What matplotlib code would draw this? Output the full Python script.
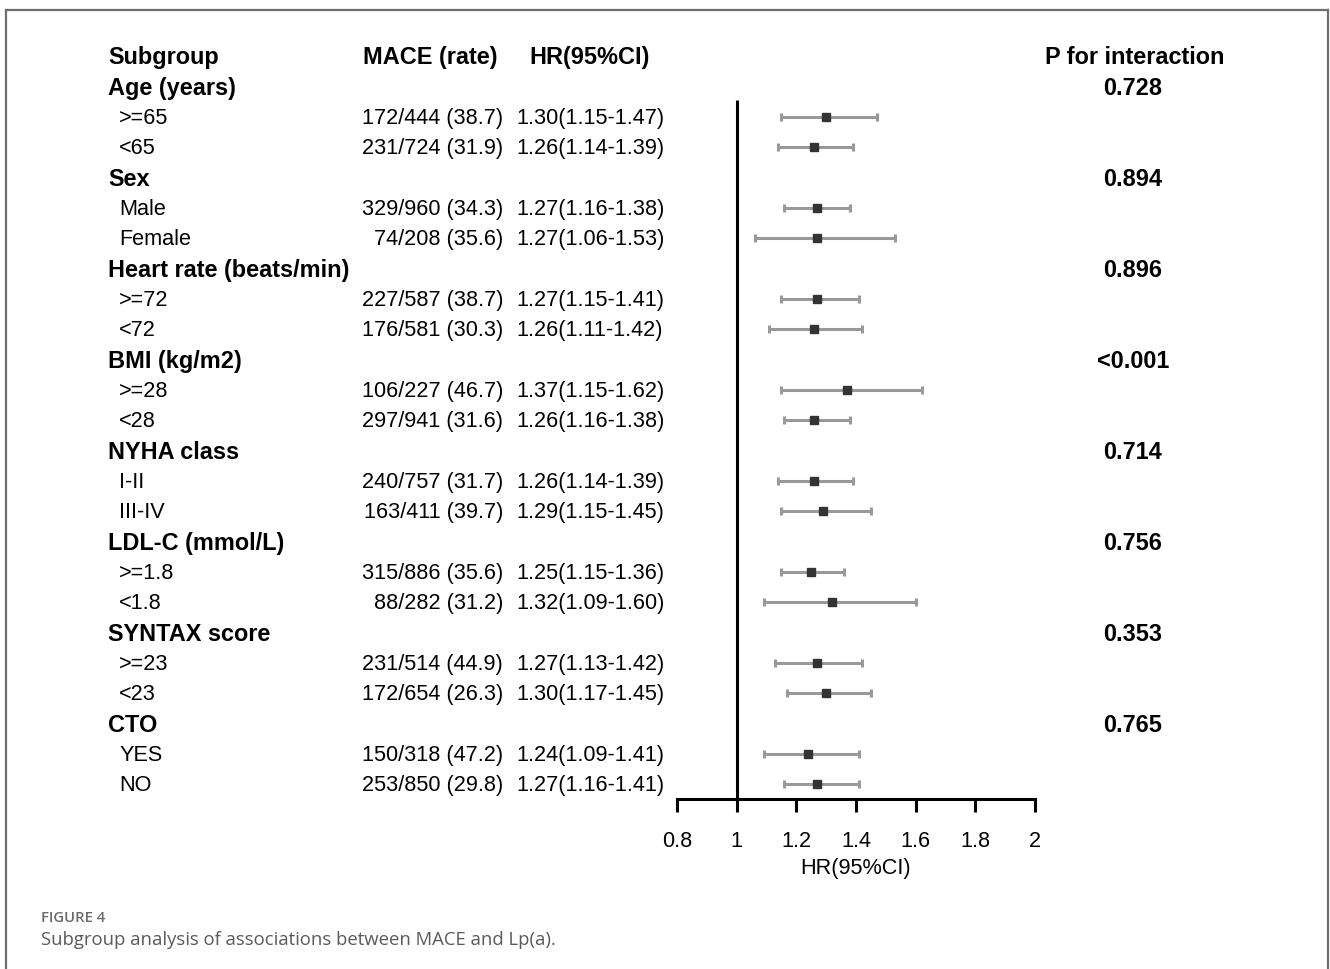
import matplotlib.pyplot as plt
import matplotlib.transforms as mtransforms
from matplotlib.lines import Line2D

plt.rcParams["font.family"] = ["Liberation Sans", "DejaVu Sans"]

# rows of the table, top to bottom (group headers have no values)
labels = ["Age (years)", ">=65", "<65",
          "Sex", "Male", "Female",
          "Heart rate (beats/min)", ">=72", "<72",
          "BMI (kg/m2)", ">=28", "<28",
          "NYHA class", "I-II", "III-IV",
          "LDL-C (mmol/L)", ">=1.8", "<1.8",
          "SYNTAX score", ">=23", "<23",
          "CTO", "YES", "NO"]
is_group = [True, False, False] * 8
mace = [None, "172/444 (38.7)", "231/724 (31.9)",
        None, "329/960 (34.3)", "74/208 (35.6)",
        None, "227/587 (38.7)", "176/581 (30.3)",
        None, "106/227 (46.7)", "297/941 (31.6)",
        None, "240/757 (31.7)", "163/411 (39.7)",
        None, "315/886 (35.6)", "88/282 (31.2)",
        None, "231/514 (44.9)", "172/654 (26.3)",
        None, "150/318 (47.2)", "253/850 (29.8)"]
hr = [None, 1.30, 1.26, None, 1.27, 1.27, None, 1.27, 1.26, None, 1.37, 1.26,
      None, 1.26, 1.29, None, 1.25, 1.32, None, 1.27, 1.30, None, 1.24, 1.27]
lo = [None, 1.15, 1.14, None, 1.16, 1.06, None, 1.15, 1.11, None, 1.15, 1.16,
      None, 1.14, 1.15, None, 1.15, 1.09, None, 1.13, 1.17, None, 1.09, 1.16]
hi = [None, 1.47, 1.39, None, 1.38, 1.53, None, 1.41, 1.42, None, 1.62, 1.38,
      None, 1.39, 1.45, None, 1.36, 1.60, None, 1.42, 1.45, None, 1.41, 1.41]
p_inter = ["0.728", None, None, "0.894", None, None, "0.896", None, None,
           "<0.001", None, None, "0.714", None, None, "0.756", None, None,
           "0.353", None, None, "0.765", None, None]
xticks = [0.8, 1, 1.2, 1.4, 1.6, 1.8, 2]
xtick_labels = ["0.8", "1", "1.2", "1.4", "1.6", "1.8", "2"]

W, H = 1330, 969
REG, BOLD = 15.6, 16.9
fig = plt.figure(figsize=(W / 100, H / 100), dpi=100)

# axes placed in pixels: x 0.8 -> 677px, 2 -> 1035px; row 0 (header) at 56px, step 30.33px
row_step = 30.33
top_px = 56 - 0.5 * row_step
bot_px = 56 + 24.5 * row_step
ax = fig.add_axes([677 / W, 1 - bot_px / H, (1035 - 677) / W, (bot_px - top_px) / H])
ax.set_xlim(0.8, 2)
ax.set_ylim(24.5, -0.5)
for s in ("top", "right", "left"):
    ax.spines[s].set_visible(False)
ax.spines["bottom"].set_linewidth(2.2)
ax.set_yticks([])
ax.set_xticks(xticks)
ax.set_xticklabels(xtick_labels, fontsize=REG)
ax.tick_params(axis="x", direction="out", length=9, width=2.2, pad=14)
ax.set_xlabel("HR(95%CI)", fontsize=REG, labelpad=4)
ax.patch.set_visible(False)

ax.vlines(1, 1.45, 24.5, color="black", lw=2.2, clip_on=False)

for i in range(len(labels)):
    if hr[i] is None:
        continue
    y = i + 1
    ax.errorbar(hr[i], y, xerr=[[hr[i] - lo[i]], [hi[i] - hr[i]]], fmt="none",
                ecolor="#999999", elinewidth=2.2, capsize=3, capthick=2.2)
    ax.plot(hr[i], y, marker="s", ms=5.5, color="#333333", zorder=3)

tr = mtransforms.blended_transform_factory(fig.transFigure, ax.transData)
tr = tr + mtransforms.ScaledTranslation(0, -2 / 100, fig.dpi_scale_trans)
fx = lambda px: px / W

ax.text(fx(108), 0, "Subgroup", transform=tr, fontsize=BOLD, fontweight="bold", va="center")
ax.text(fx(363), 0, "MACE (rate)", transform=tr, fontsize=BOLD, fontweight="bold", va="center")
ax.text(fx(529), 0, "HR(95%CI)", transform=tr, fontsize=BOLD, fontweight="bold", va="center")
ax.text(fx(1135), 0, "P for interaction", transform=tr, fontsize=BOLD, fontweight="bold",
        va="center", ha="center")

for i, lab in enumerate(labels):
    y = i + 1
    if is_group[i]:
        ax.text(fx(108), y, lab, transform=tr, fontsize=BOLD, fontweight="bold", va="center")
    else:
        ax.text(fx(119), y, lab, transform=tr, fontsize=REG, va="center")
    if mace[i] is not None:
        ax.text(fx(503), y, mace[i], transform=tr, fontsize=REG, va="center", ha="right")
        ax.text(fx(516), y, f"{hr[i]:.2f}({lo[i]:.2f}-{hi[i]:.2f})", transform=tr,
                fontsize=REG, va="center")
    if p_inter[i] is not None:
        ax.text(fx(1133), y, p_inter[i], transform=tr, fontsize=BOLD, fontweight="bold",
                va="center", ha="center")

# caption
fig.text(fx(41), 1 - 918 / H, "FIGURE 4", fontsize=10.7, color="#6a6a6a", va="center",
         family="Open Sans", fontweight="semibold")
fig.text(fx(41), 1 - 940 / H, "Subgroup analysis of associations between MACE and Lp(a).",
         fontsize=13.3, color="#5a5a5a", va="center", family="Open Sans")

# frame
frame = dict(color="#6e6e6e", lw=1.6, transform=fig.transFigure)
fig.add_artist(Line2D([fx(6), fx(1328)], [1 - 10 / H, 1 - 10 / H], **frame))
fig.add_artist(Line2D([fx(6), fx(6)], [1 - 10 / H, 0], **frame))
fig.add_artist(Line2D([fx(1328), fx(1328)], [1 - 10 / H, 0], **frame))

fig.savefig("out.png", dpi=100)
